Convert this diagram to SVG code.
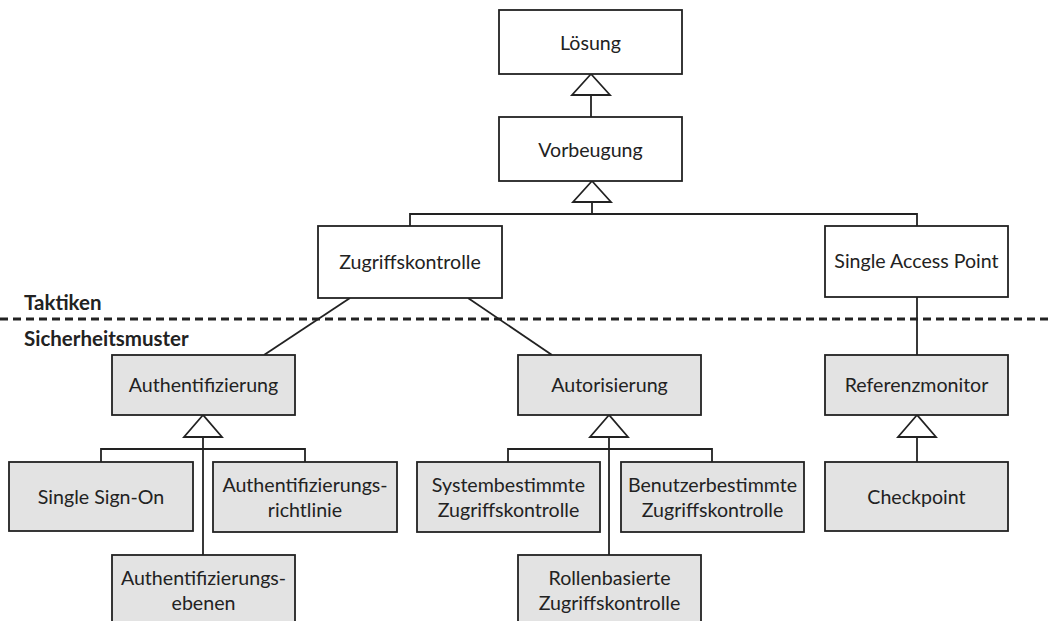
<svg xmlns="http://www.w3.org/2000/svg" width="1050" height="621" viewBox="0 0 1050 621">
  <style>
    .box { stroke: #222; stroke-width: 1.8; }
    .tactic { fill: #ffffff; }
    .pattern { fill: #e3e3e3; }
    .lbl { font-family: Lato, "Open Sans", "DejaVu Sans", sans-serif; font-size: 19.6px; fill: #222; text-anchor: middle; }
    .layer { font-family: Lato, "Open Sans", "DejaVu Sans", sans-serif; font-size: 20.5px; font-weight: bold; fill: #222; }
    .link { fill: none; stroke: #222; stroke-width: 1.8; }
    .gen { fill: #ffffff; stroke: #222; stroke-width: 1.8; stroke-linejoin: miter; }
    .sep { stroke: #222; stroke-width: 3; stroke-dasharray: 8 5; }
  </style>
  <rect width="1050" height="621" fill="#ffffff"/>

  <!-- layer separator -->
  <line class="sep" x1="0" y1="319" x2="1050" y2="319"/>
  <text class="layer" x="24" y="310">Taktiken</text>
  <text class="layer" x="24" y="346">Sicherheitsmuster</text>

  <!-- connectors -->
  <g id="connectors">
    <line class="link" x1="591" y1="95" x2="591" y2="117"/>
    <polygon class="gen" points="591,74 572,95 610,95"/>

    <polyline class="link" points="410,226 410,214 917,214 917,226"/>
    <line class="link" x1="592" y1="202" x2="592" y2="214"/>
    <polygon class="gen" points="592,181 573,202 611,202"/>

    <line class="link" x1="350" y1="298" x2="264" y2="355"/>
    <line class="link" x1="468" y1="298" x2="552" y2="355"/>
    <line class="link" x1="917" y1="297" x2="917" y2="355"/>

    <polyline class="link" points="101,462 101,449 305,449 305,462"/>
    <line class="link" x1="203" y1="437" x2="203" y2="555"/>
    <polygon class="gen" points="203,415 184,437 222,437"/>

    <polyline class="link" points="508,462 508,449 712,449 712,462"/>
    <line class="link" x1="609" y1="437" x2="609" y2="555"/>
    <polygon class="gen" points="609,415 590,437 628,437"/>

    <line class="link" x1="917" y1="437" x2="917" y2="462"/>
    <polygon class="gen" points="917,415 898,437 936,437"/>
  </g>

  <!-- tactics -->
  <g id="loesung">
    <rect class="box tactic" x="499" y="10" width="183" height="64"/>
    <text class="lbl" x="590.5" y="50">Lösung</text>
  </g>
  <g id="vorbeugung">
    <rect class="box tactic" x="499" y="117" width="183" height="64"/>
    <text class="lbl" x="590.5" y="157">Vorbeugung</text>
  </g>
  <g id="zugriffskontrolle">
    <rect class="box tactic" x="318" y="226" width="184" height="72"/>
    <text class="lbl" x="410" y="269">Zugriffskontrolle</text>
  </g>
  <g id="single-access-point">
    <rect class="box tactic" x="825" y="226" width="183" height="71"/>
    <text class="lbl" x="916.5" y="268">Single Access Point</text>
  </g>

  <!-- security patterns -->
  <g id="authentifizierung">
    <rect class="box pattern" x="112" y="355" width="183" height="60"/>
    <text class="lbl" x="203.5" y="392">Authentifizierung</text>
  </g>
  <g id="autorisierung">
    <rect class="box pattern" x="518" y="355" width="183" height="60"/>
    <text class="lbl" x="609.5" y="392">Autorisierung</text>
  </g>
  <g id="referenzmonitor">
    <rect class="box pattern" x="825" y="355" width="183" height="60"/>
    <text class="lbl" x="916.5" y="392">Referenzmonitor</text>
  </g>
  <g id="single-sign-on">
    <rect class="box pattern" x="9" y="462" width="184" height="69"/>
    <text class="lbl" x="101" y="504">Single Sign-On</text>
  </g>
  <g id="authentifizierungsrichtlinie">
    <rect class="box pattern" x="213" y="462" width="184" height="70"/>
    <text class="lbl" x="305" y="492">Authentifizierungs-</text>
    <text class="lbl" x="305" y="517">richtlinie</text>
  </g>
  <g id="authentifizierungsebenen">
    <rect class="box pattern" x="112" y="555" width="183" height="72"/>
    <text class="lbl" x="203.5" y="585">Authentifizierungs-</text>
    <text class="lbl" x="203.5" y="610">ebenen</text>
  </g>
  <g id="systembestimmte">
    <rect class="box pattern" x="417" y="462" width="183" height="70"/>
    <text class="lbl" x="508.5" y="492">Systembestimmte</text>
    <text class="lbl" x="508.5" y="517">Zugriffskontrolle</text>
  </g>
  <g id="benutzerbestimmte">
    <rect class="box pattern" x="621" y="462" width="183" height="70"/>
    <text class="lbl" x="712.5" y="492">Benutzerbestimmte</text>
    <text class="lbl" x="712.5" y="517">Zugriffskontrolle</text>
  </g>
  <g id="rollenbasierte">
    <rect class="box pattern" x="518" y="555" width="183" height="72"/>
    <text class="lbl" x="609.5" y="585">Rollenbasierte</text>
    <text class="lbl" x="609.5" y="610">Zugriffskontrolle</text>
  </g>
  <g id="checkpoint">
    <rect class="box pattern" x="825" y="462" width="183" height="69"/>
    <text class="lbl" x="916.5" y="504">Checkpoint</text>
  </g>
</svg>
